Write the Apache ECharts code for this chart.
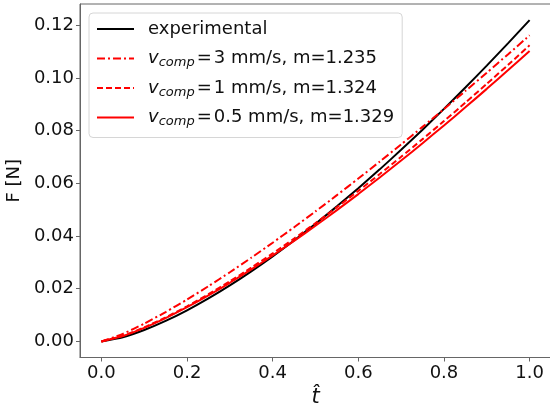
<!DOCTYPE html>
<html>
<head>
<meta charset="utf-8">
<script src="https://cdn.jsdelivr.net/npm/echarts@6/dist/echarts.min.js"></script>
<style>
html,body{margin:0;padding:0;background:#fff;}
#chart{width:550px;height:405px;}
</style>
</head>
<body>
<div id="chart"></div>
<script>
// ---- data ----
const tValues = [0, 0.05, 0.10, 0.15, 0.20, 0.25, 0.30, 0.35, 0.40, 0.45, 0.50,
                 0.55, 0.60, 0.65, 0.70, 0.75, 0.80, 0.85, 0.90, 0.95, 1.00];
const experimental = [0, 0.00158, 0.00433, 0.00779, 0.01183, 0.01635, 0.02129, 0.02662, 0.03231, 0.03833, 0.04466,
                      0.05128, 0.05817, 0.06532, 0.07274, 0.08039, 0.08828, 0.09639, 0.10471, 0.11325, 0.1220];
const vcomp3 = [0, 0.00287, 0.00677, 0.01116, 0.01592, 0.02097, 0.02627, 0.03178, 0.03748, 0.04335, 0.04937,
                0.05553, 0.06184, 0.06826, 0.07480, 0.08145, 0.08822, 0.09507, 0.10201, 0.10906, 0.1162];
const vcomp1 = [0, 0.00213, 0.00533, 0.00912, 0.01335, 0.01793, 0.02283, 0.02800, 0.03341, 0.03905, 0.04490,
                0.05094, 0.05716, 0.06354, 0.07009, 0.07680, 0.08365, 0.09064, 0.09777, 0.10502, 0.1124];
const vcomp05 = [0, 0.00206, 0.00517, 0.00886, 0.01299, 0.01748, 0.02227, 0.02733, 0.03264, 0.03817, 0.04391,
                 0.04984, 0.05594, 0.06222, 0.06866, 0.07525, 0.08200, 0.08887, 0.09588, 0.10303, 0.1103];
const seriesNames = ['experimental', 'v3', 'v1', 'v05'];
const legendSpeeds = ['', '3 mm/s, m=1.235', '1 mm/s, m=1.324', '0.5 mm/s, m=1.329'];
const xTicks = [0, 0.2, 0.4, 0.6, 0.8, 1.0];
const yTicks = [0, 0.02, 0.04, 0.06, 0.08, 0.10, 0.12];
const xLabel = 't\u0302';
const yLabel = 'F [N]';

const pairs = arr => tValues.map((t, i) => [t, arr[i]]);
const FONT = 'DejaVu Sans';
const AX = '#666';
const TXT = '#111';

const chart = echarts.init(document.getElementById('chart'), null, {renderer: 'canvas'});
chart.setOption({
  animation: false,
  backgroundColor: '#fff',
  grid: {
    left: 80, top: 4, width: 471, height: 353.5,
    containLabel: false, outerBoundsMode: 'none',
    show: true, borderColor: AX, borderWidth: 1, backgroundColor: 'transparent'
  },
  xAxis: {
    type: 'value', min: -0.05, max: 1.05,
    name: xLabel, nameLocation: 'middle', nameGap: 25,
    nameTextStyle: {fontFamily: FONT, fontSize: 21, fontStyle: 'italic', color: TXT},
    axisLine: {show: true, onZero: false, lineStyle: {color: AX, width: 1}},
    axisTick: {show: true, length: 4, lineStyle: {color: AX}, customValues: xTicks},
    axisLabel: {fontFamily: FONT, fontSize: 18, color: TXT, margin: 7,
                customValues: xTicks, formatter: v => v.toFixed(1)},
    splitLine: {show: false}
  },
  yAxis: {
    type: 'value', min: -0.0061, max: 0.1281,
    name: yLabel, nameLocation: 'middle', nameGap: 55,
    nameTextStyle: {fontFamily: FONT, fontSize: 18, color: TXT},
    axisLine: {show: true, onZero: false, lineStyle: {color: AX, width: 1}},
    axisTick: {show: true, length: 4, lineStyle: {color: AX}, customValues: yTicks},
    axisLabel: {fontFamily: FONT, fontSize: 18, color: TXT, margin: 6,
                customValues: yTicks, formatter: v => v.toFixed(2)},
    splitLine: {show: false}
  },
  legend: {
    orient: 'vertical', left: 89, top: 13,
    data: seriesNames,
    itemWidth: 37, itemHeight: 2, itemGap: 5.5,
    padding: [4, 8, 8, 7],
    backgroundColor: 'rgba(255,255,255,0.85)',
    borderColor: '#d6d6d6', borderWidth: 1, borderRadius: 4,
    itemStyle: {color: 'rgba(0,0,0,0)', borderColor: 'rgba(0,0,0,0)', borderWidth: 0, opacity: 0},
    textStyle: {
      fontFamily: FONT, fontSize: 18, color: TXT, padding: [0, 0, 0, 9], lineHeight: 24,
      rich: {
        t: {fontFamily: FONT, fontSize: 18, color: TXT, lineHeight: 24},
        eq: {fontFamily: FONT, fontSize: 18, color: TXT, lineHeight: 24, padding: [0, 2, 0, 2]},
        v: {fontFamily: FONT, fontSize: 18, fontStyle: 'italic', color: TXT, lineHeight: 24},
        sub: {fontFamily: FONT, fontSize: 13, fontStyle: 'italic', color: TXT, lineHeight: 15, padding: [9, 0, 0, 0]}
      }
    },
    formatter: function (name) {
      const i = seriesNames.indexOf(name);
      if (i === 0) return '{t|experimental}';
      return '{v|v}{sub|comp}{eq|=}{t|' + legendSpeeds[i] + '}';
    }
  },
  series: [
    {name: 'experimental', type: 'line', data: pairs(experimental), symbol: 'none', smooth: 0.2,
     lineStyle: {color: '#000', width: 2}, itemStyle: {color: '#000'}},
    {name: 'v3', type: 'line', data: pairs(vcomp3), symbol: 'none', smooth: 0.2,
     lineStyle: {color: '#ff0000', width: 2, type: [8, 3, 2, 3]}, itemStyle: {color: '#ff0000'}},
    {name: 'v1', type: 'line', data: pairs(vcomp1), symbol: 'none', smooth: 0.2,
     lineStyle: {color: '#ff0000', width: 2, type: [6, 3]}, itemStyle: {color: '#ff0000'}},
    {name: 'v05', type: 'line', data: pairs(vcomp05), symbol: 'none', smooth: 0.2,
     lineStyle: {color: '#ff0000', width: 2}, itemStyle: {color: '#ff0000'}}
  ]
});
</script>
</body>
</html>
